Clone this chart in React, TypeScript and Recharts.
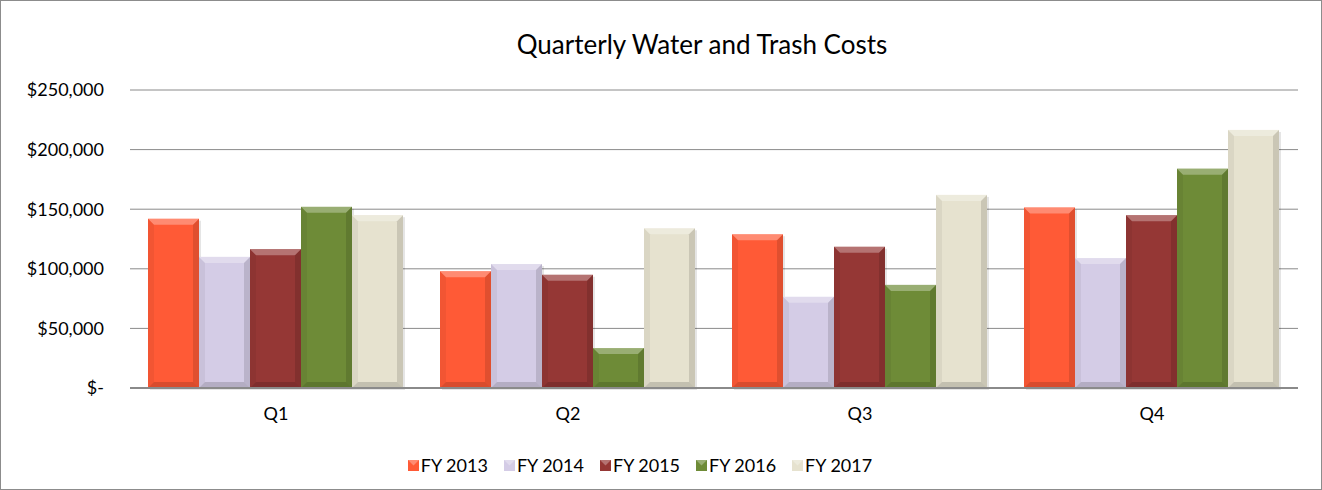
import React from "react";
import { BarChart, Bar, XAxis, YAxis, CartesianGrid } from "recharts";

const quarters = ["Q1", "Q2", "Q3", "Q4"];
const fy2013 = [142000, 98000, 129000, 151500];
const fy2014 = [110000, 104000, 76500, 109000];
const fy2015 = [116500, 95000, 118500, 145000];
const fy2016 = [152000, 33500, 86500, 184000];
const fy2017 = [145000, 134000, 162000, 216500];
const yTicks = [0, 50000, 100000, 150000, 200000, 250000];

const seriesNames = ["FY 2013", "FY 2014", "FY 2015", "FY 2016", "FY 2017"];
const seriesColors = ["#FF5A36", "#D4CCE6", "#953735", "#6E8B37", "#E6E2CF"];
const seriesValues = [fy2013, fy2014, fy2015, fy2016, fy2017];

const data = quarters.map((q, i) => {
  const row: any = { q };
  seriesNames.forEach((n, s) => {
    row[n] = seriesValues[s][i];
  });
  return row;
});

const FONT = "Lato, 'Open Sans', sans-serif";

const fmt = (v: number) =>
  v === 0 ? "$-" : "$" + v.toLocaleString("en-US");

const BevelBar = (props: any) => {
  const { x, y, width: w, height: h, fill } = props;
  if (!w || !h || h <= 0) return null;
  const b = Math.min(6, h / 2, w / 2);
  return (
    <g>
      <rect x={x + 2} y={y + 2} width={w} height={h} fill="rgba(0,0,0,0.10)" />
      <rect x={x} y={y} width={w} height={h} fill={fill} />
      <polygon
        points={`${x},${y} ${x + w},${y} ${x + w - b},${y + b} ${x + b},${y + b}`}
        fill="rgba(255,255,255,0.3)"
      />
      <polygon
        points={`${x},${y} ${x + b},${y + b} ${x + b},${y + h - b} ${x},${y + h}`}
        fill="rgba(0,0,0,0.05)"
      />
      <polygon
        points={`${x + w},${y} ${x + w - b},${y + b} ${x + w - b},${y + h - b} ${x + w},${y + h}`}
        fill="rgba(0,0,0,0.12)"
      />
      <polygon
        points={`${x},${y + h} ${x + b},${y + h - b} ${x + w - b},${y + h - b} ${x + w},${y + h}`}
        fill="rgba(0,0,0,0.15)"
      />
    </g>
  );
};

export default function App() {
  return (
    <div
      style={{
        position: "absolute",
        left: 0,
        top: 0,
        width: 1322,
        height: 490,
        background: "#fff",
        boxSizing: "border-box",
        border: "1px solid #8c8c8c",
      }}
    >
      <div
        style={{
          position: "absolute",
          left: 0,
          width: 1402,
          top: 27,
          textAlign: "center",
          fontFamily: FONT,
          fontSize: 26,
          color: "#000",
        }}
      >
        Quarterly Water and Trash Costs
      </div>
      <div style={{ position: "absolute", left: -1, top: -1 }}>
        <BarChart
          width={1322}
          height={490}
          data={data}
          margin={{ top: 90, right: 24, bottom: 62, left: 0 }}
          barCategoryGap={18}
          barGap={0}
        >
          <CartesianGrid vertical={false} stroke="#8a8a8a" strokeWidth={1} />
          <XAxis
            dataKey="q"
            axisLine={{ stroke: "#8a8a8a", strokeWidth: 2 }}
            tickLine={false}
            tickSize={0}
            tickMargin={19}
            height={40}
            tick={{ fontFamily: FONT, fontSize: 18, fill: "#000" }}
          />
          <YAxis
            width={130}
            domain={[0, 250000]}
            ticks={yTicks}
            interval={0}
            tickFormatter={fmt}
            axisLine={false}
            tickLine={false}
            tickSize={0}
            tickMargin={26}
            tick={{ fontFamily: FONT, fontSize: 18, fill: "#000" }}
          />
          {seriesNames.map((n, i) => (
            <Bar
              key={n}
              dataKey={n}
              fill={seriesColors[i]}
              isAnimationActive={false}
              shape={<BevelBar />}
            />
          ))}
        </BarChart>
      </div>
      <div
        style={{
          position: "absolute",
          left: 0,
          width: 1278,
          top: 453,
          display: "flex",
          justifyContent: "center",
          fontFamily: FONT,
          fontSize: 18,
          color: "#000",
          gap: 16,
        }}
      >
        {seriesNames.map((n, i) => (
          <div key={n} style={{ display: "flex", alignItems: "center" }}>
            <svg width={11} height={11} style={{ marginRight: 2 }}>
              <rect x={0} y={0} width={11} height={11} fill={seriesColors[i]} />
              <polygon points="0,0 11,0 5.5,5.5" fill="rgba(255,255,255,0.3)" />
            </svg>
            <span>{n}</span>
          </div>
        ))}
      </div>
    </div>
  );
}
